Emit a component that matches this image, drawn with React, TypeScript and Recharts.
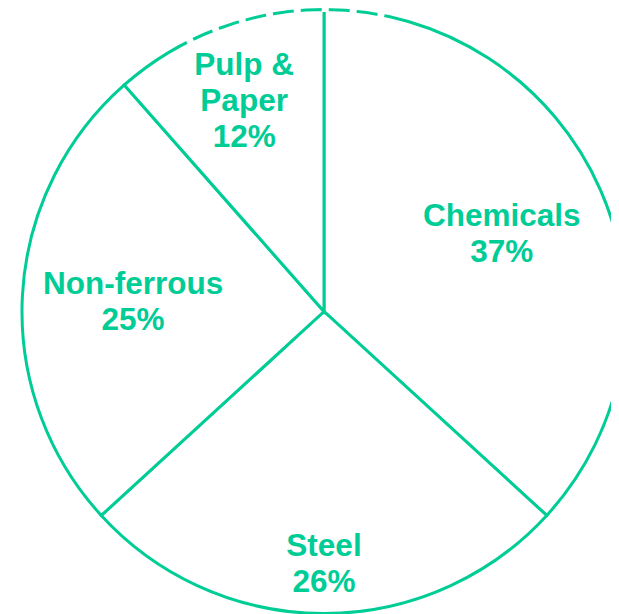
import React from "react";
import { PieChart, Pie, Cell } from "recharts";

const categories = ["Chemicals", "Steel", "Non-ferrous", "Pulp & Paper"];
const shares = [36.8, 26.4, 25.3, 11.5];
const shareLabels = ["37%", "26%", "25%", "12%"];
const labelLines: string[][] = [["Chemicals"], ["Steel"], ["Non-ferrous"], ["Pulp &", "Paper"]];

const data = categories.map((name, i) => ({ name, value: shares[i] }));
const dashedArc = [{ name: "arc", value: 1 }];

const GREEN = "#00CC96";
const RADIUS = 302;
const RADIAL_FACTOR = [0.643, 0.834, 0.633, 0.748];
const RAD = Math.PI / 180;
const DASH_START = 117;
const DASH_END = 73;

const dashLen = (RADIUS * (DASH_START - DASH_END) * Math.PI) / 180;
const dashPattern = (() => {
  const parts: number[] = [];
  let acc = 0;
  while (acc + 28 < dashLen) {
    parts.push(7, 21);
    acc += 28;
  }
  parts.push(0, 2000);
  return parts.join(" ");
})();

const renderLabel = (props: any) => {
  const { cx, cy, midAngle, outerRadius, index } = props;
  const r = outerRadius * RADIAL_FACTOR[index];
  const x = cx + r * Math.cos(-midAngle * RAD);
  const y = cy + r * Math.sin(-midAngle * RAD);
  const lines: string[] = [...labelLines[index], shareLabels[index]];
  const lh = 36;
  const startY = y - ((lines.length - 1) * lh) / 2;
  return (
    <text
      x={x}
      y={startY}
      textAnchor="middle"
      dominantBaseline="central"
      fill={GREEN}
      fontFamily="'Liberation Sans', Arial, sans-serif"
      fontWeight="bold"
      fontSize={31.5}
    >
      {lines.map((l, i) => (
        <tspan key={i} x={x} y={startY + i * lh}>
          {l}
        </tspan>
      ))}
    </text>
  );
};

export default function App() {
  return (
    <div style={{ width: 611, height: 606, background: "#fff" }}>
      <PieChart width={611} height={606} margin={{ top: 0, right: 0, bottom: 0, left: 0 }}>
        <Pie
          data={data}
          dataKey="value"
          nameKey="name"
          cx={316}
          cy={303.5}
          outerRadius={RADIUS}
          startAngle={90}
          endAngle={-270}
          stroke={GREEN}
          strokeWidth={3}
          fill="#ffffff"
          label={renderLabel}
          labelLine={false}
          isAnimationActive={false}
        >
          {data.map((d) => (
            <Cell key={d.name} fill="#ffffff" stroke={GREEN} strokeWidth={3} />
          ))}
        </Pie>
        <Pie
          data={dashedArc}
          dataKey="value"
          cx={316}
          cy={303.5}
          innerRadius={RADIUS}
          outerRadius={RADIUS}
          startAngle={DASH_START}
          endAngle={DASH_END}
          fill="none"
          stroke="#ffffff"
          strokeWidth={5}
          strokeDasharray={dashPattern}
          label={false}
          labelLine={false}
          isAnimationActive={false}
        />
      </PieChart>
    </div>
  );
}
